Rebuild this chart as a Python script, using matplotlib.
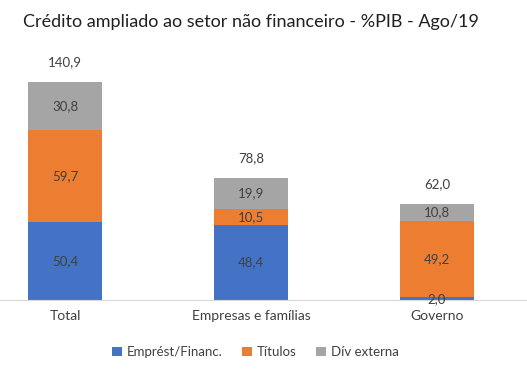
import matplotlib
matplotlib.use("Agg")
import matplotlib.pyplot as plt
import numpy as np

plt.rcParams['font.family'] = ['Lato', 'DejaVu Sans']

categorias = ["Total", "Empresas e famílias", "Governo"]
emprest = [50.4, 48.4, 2.0]
titulos = [59.7, 10.5, 49.2]
div_ext = [30.8, 19.9, 10.8]
totais = [140.9, 78.8, 62.0]

cores = ["#4472C4", "#ED7D31", "#A5A5A5"]
txt = "#404040"

fig = plt.figure(figsize=(5.27, 3.72), dpi=100)
ax = fig.add_axes([0.0, 1 - 300/372, 1.0, 250/372])

x = np.arange(len(categorias))
w = 0.40
b1 = ax.bar(x, emprest, w, color=cores[0], label="Emprést/Financ.")
b2 = ax.bar(x, titulos, w, bottom=emprest, color=cores[1], label="Títulos")
base3 = np.array(emprest) + np.array(titulos)
b3 = ax.bar(x, div_ext, w, bottom=base3, color=cores[2], label="Dív externa")

def fmt(v):
    return f"{v:.1f}".replace(".", ",")

for i in range(len(x)):
    ax.text(x[i], emprest[i] / 2 if emprest[i] > 5 else 0.3, fmt(emprest[i]),
            ha="center", va="center", fontsize=9.5, color=txt)
    ax.text(x[i], emprest[i] + titulos[i] / 2, fmt(titulos[i]),
            ha="center", va="center", fontsize=9.5, color=txt)
    ax.text(x[i], base3[i] + div_ext[i] / 2, fmt(div_ext[i]),
            ha="center", va="center", fontsize=9.5, color=txt)
    ax.text(x[i], totais[i] + 13, fmt(totais[i]),
            ha="center", va="center", fontsize=9.5, color=txt)

ax.set_xlim(-65/186, (527-65)/186)
ax.set_ylim(0, 250/1.547)
for s in ["top", "right", "left"]:
    ax.spines[s].set_visible(False)
ax.spines["bottom"].set_color("#D9D9D9")
ax.set_yticks([])
ax.set_xticks(x)
ax.set_xticklabels(categorias, fontsize=10, color=txt)
ax.tick_params(axis="x", length=0, pad=7)

fig.text(0.477, 1 - 22/372, "Crédito ampliado ao setor não financeiro - %PIB - Ago/19",
         ha="center", va="center", fontsize=13, color="#202020")

fig.legend(handles=[b1, b2, b3], loc="center", bbox_to_anchor=(0.485, 1 - 352/372),
           ncol=3, frameon=False, fontsize=9.5, handlelength=0.7, handleheight=0.7,
           columnspacing=1.5, handletextpad=0.4, labelcolor=txt)

fig.savefig("out.png", dpi=100)
